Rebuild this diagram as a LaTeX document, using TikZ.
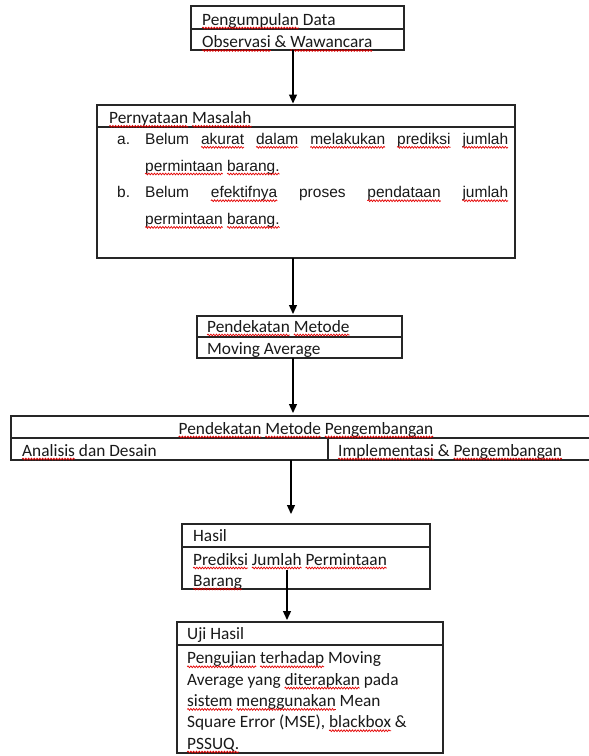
\documentclass[tikz,border=0pt]{standalone}
\usepackage{fontspec}
\setmainfont{Carlito}
\newfontfamily\arialf{Liberation Sans}
\usetikzlibrary{arrows.meta,decorations.pathmorphing}
\newcommand\sq[1]{\tikz[baseline=(w.base)]{\node[inner sep=0pt, outer sep=0pt] (w) {#1};\draw[overlay, red!90!black, line width=0.7pt, decorate, decoration={snake, amplitude=0.9pt, segment length=2.8pt}] ([yshift=-3pt]w.base west) -- ([yshift=-3pt]w.base east);}}
\begin{document}
\begin{tikzpicture}[x=1pt,y=-1pt,
  cell/.style={draw=black!85, line width=1.1pt, rectangle, inner sep=0pt, outer sep=0pt, anchor=north west},
  lbl/.style={anchor=base west, inner sep=0pt, font=\fontsize{17.3}{21.3}\selectfont, text=black!90},
  arr/.style={draw=black, line width=1.3pt, -{Triangle[length=9pt,width=8pt]}}]
\useasboundingbox (0,0) rectangle (589,756);
\clip (0,0) rectangle (589,756);
\fill[white] (0,0) rectangle (589,756);

% Box 1
\node[cell, minimum width=213pt, minimum height=23pt] (b1a) at (191,6) {};
\node[cell, minimum width=213pt, minimum height=21pt] (b1b) at (191,29) {};
\node[lbl] (t1a) at (202,25) {\sq{Pengumpulan} Data};
\node[lbl] (t1b) at (202,47.5) {\sq{Observasi} \& \sq{Wawancara}};

% Box 2
\node[cell, minimum width=418pt, minimum height=22pt] (b2a) at (97,105) {};
\node[cell, minimum width=418pt, minimum height=131pt] (b2b) at (97,127) {};
\node[lbl] (t2a) at (109,123.3) {\sq{Pernyataan} \sq{Masalah}};
\node[anchor=base west, inner sep=0pt, text=black!90] (t2b) at (117,144.3) {\parbox[t]{391pt}{\arialf\fontsize{15.5}{26.7}\selectfont
  \hangindent=28pt \hangafter=1 \noindent\makebox[28pt][l]{a.}Belum \sq{akurat} \sq{dalam} \sq{melakukan} \sq{prediksi} \sq{jumlah}\linebreak \sq{permintaan} \sq{barang.}\par
  \hangindent=28pt \hangafter=1 \noindent\makebox[28pt][l]{b.}Belum \sq{efektifnya} proses \sq{pendataan} \sq{jumlah}\linebreak \sq{permintaan} \sq{barang.}\par}};

% Box 3
\node[cell, minimum width=205pt, minimum height=21pt] (b3a) at (197,316) {};
\node[cell, minimum width=205pt, minimum height=21pt] (b3b) at (197,337) {};
\node[lbl] (t3a) at (207,332) {\sq{Pendekatan} \sq{Metode}};
\node[lbl] (t3b) at (207,354) {Moving Average};

% Box 4
\node[cell, minimum width=600pt, minimum height=22pt] (b4a) at (11,416) {};
\node[cell, minimum width=317pt, minimum height=22pt] (b4b) at (11,438) {};
\node[cell, minimum width=283pt, minimum height=22pt] (b4c) at (328,438) {};
\node[anchor=base, inner sep=0pt, font=\fontsize{17.3}{21.3}\selectfont, text=black!90] (t4a) at (306,434) {\sq{Pendekatan} \sq{Metode} \sq{Pengembangan}};
\node[lbl] (t4b) at (22,456) {\sq{Analisis} dan Desain};
\node[lbl] (t4c) at (338,456) {\sq{Implementasi} \& \sq{Pengembangan}};

% Box 5
\node[cell, minimum width=248pt, minimum height=23pt] (b5a) at (182,524) {};
\node[cell, minimum width=248pt, minimum height=42pt] (b5b) at (182,547) {};
\node[lbl] (t5a) at (193,541) {Hasil};
\node[lbl, align=left, font=\fontsize{17.3}{21}\selectfont] (t5b) at (193,586) {\sq{Prediksi} \sq{Jumlah} \sq{Permintaan}\\\sq{Barang}};

% Box 6
\node[cell, minimum width=266pt, minimum height=23pt] (b6a) at (177,622) {};
\node[cell, minimum width=266pt, minimum height=108pt] (b6b) at (177,645) {};
\node[lbl] (t6a) at (187,639) {Uji Hasil};
\node[lbl, align=left] (t6b) at (187,749) {\sq{Pengujian} \sq{terhadap} Moving\\Average yang \sq{diterapkan} pada\\\sq{sistem} \sq{menggunakan} Mean\\Square Error (MSE), \sq{blackbox} \&\\\sq{PSSUQ.}};

% Arrows
\coordinate (x1) at (293,0);
\coordinate (x4) at (291,0);
\coordinate (h5) at (287,570);
\draw[arr] (b1b.south -| x1) -- ([yshift=1.5pt]b2a.north -| x1);
\draw[arr] (b2b.south -| x1) -- ([yshift=2pt]b3a.north -| x1);
\draw[arr] (b3b.south -| x1) -- ([yshift=3pt]b4a.north -| x1);
\draw[arr] (b4b.south -| x4) -- ([yshift=10pt]b5a.north -| x4);
\draw[arr] (h5) -- ([yshift=2pt]b6a.north -| h5);
\end{tikzpicture}
\end{document}
